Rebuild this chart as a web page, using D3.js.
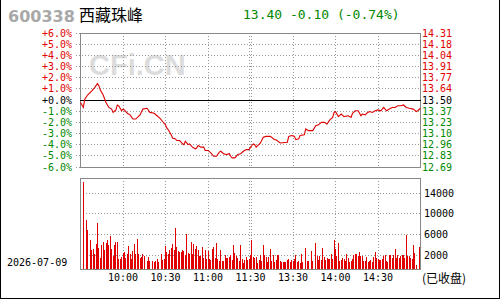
<!DOCTYPE html>
<html lang="zh">
<meta charset="utf-8">
<style>
body { margin: 0; background: #fff; }
text { font-family: "DejaVu Sans Mono", monospace; font-size: 10px; }
.grid { stroke: #999; stroke-dasharray: 1,2; shape-rendering: crispEdges; }
.frame { fill: none; stroke: #888; shape-rendering: crispEdges; }
</style>
<script src="https://d3js.org/d3.v7.min.js"></script>
<body>
<script>

// header info
var code = "600338", name = "西藏珠峰", quote = "13.40 -0.10 (-0.74%)", date = "2026-07-09";
var preClose = 13.50;

// price axis
var pctTicks = [6, 5, 4, 3, 2, 1, 0, -1, -2, -3, -4, -5, -6];
var pctLabels = ["+6.0%", "+5.0%", "+4.0%", "+3.0%", "+2.0%", "+1.0%", "+0.0%", "-1.0%", "-2.0%", "-3.0%", "-4.0%", "-5.0%", "-6.0%"];
var priceLabels = ["14.31", "14.18", "14.04", "13.91", "13.77", "13.64", "13.50", "13.37", "13.23", "13.10", "12.96", "12.83", "12.69"];

// time axis (minute index from 9:30, 241 trading minutes)
var timeTicks = [30, 60, 90, 120, 150, 180, 210];
var timeLabels = ["10:00", "10:30", "11:00", "11:30", "13:30", "14:00", "14:30"];
var gridMins = [30, 60, 90, 119.5, 120.5, 150, 180, 210];

// volume axis
var volTicks = [2000, 6000, 10000, 14000];

// price line (minute, price)
var priceMin = [0,2,3,5,8,10,12,13,14,16,18,20,22,23,25,26,27,29,30,31,33,35,37,39,42,44,47,49,52,54,
  56,58,60,61,62,64,65,67,68,70,72,73,74,76,77,79,81,82,83,85,87,88,90,92,94,96,98,99,101,103,
  105,106,107,109,111,113,115,117,119,120,121,122,123,124,127,129,131,134,137,138,141,146,147,149,151,152,154,155,158,159,
  161,164,166,168,170,172,174,176,178,179,180,182,184,186,189,191,192,194,196,198,199,201,202,204,206,208,210,212,214,216,
  218,220,222,224,226,228,230,232,235,237,238,240];
var pricePx = [13.47,13.41,13.51,13.56,13.61,13.65,13.70,13.67,13.62,13.56,13.47,13.41,13.39,13.35,13.38,13.44,13.43,13.37,13.39,13.38,
  13.34,13.32,13.27,13.27,13.32,13.39,13.40,13.35,13.34,13.31,13.28,13.24,13.20,13.16,13.14,13.08,13.04,13.03,13.01,13.01,
  12.97,12.96,13.00,12.96,12.97,12.93,12.91,12.92,12.95,12.93,12.93,12.89,12.89,12.86,12.82,12.82,12.87,12.88,12.85,12.84,
  12.85,12.82,12.80,12.80,12.84,12.85,12.88,12.90,12.90,12.93,12.95,12.97,12.96,12.93,12.98,13.05,13.06,13.06,13.02,13.02,
  12.98,12.99,13.06,13.07,13.06,13.02,13.03,13.07,13.08,13.15,13.13,13.13,13.19,13.20,13.23,13.23,13.21,13.26,13.29,13.35,
  13.36,13.30,13.33,13.30,13.31,13.29,13.34,13.37,13.37,13.31,13.33,13.32,13.34,13.36,13.35,13.37,13.38,13.37,13.41,13.37,
  13.39,13.41,13.41,13.43,13.43,13.44,13.41,13.40,13.39,13.36,13.37,13.40];

// volume per minute
var volume = [
  1300,0,16200,0,8800,6900,0,5000,3000,3200,
  2200,4200,8200,3400,1500,4000,4600,3000,4400,5000,
  4000,5700,3200,1900,4000,4600,4600,1300,1300,1700,
  2400,2600,1500,2200,3800,2200,1300,2800,4200,2200,
  5100,2200,1500,1700,2200,1900,0,900,1700,900,
  0,900,700,900,1300,700,0,2200,1100,1300,
  3800,2600,2200,3000,3400,4200,3000,7300,3600,2800,
  2600,2600,3000,2800,2000,6100,2400,2200,4600,2200,
  4200,3200,3800,3000,1900,1900,3600,1500,3000,1300,
  2800,1300,1100,3200,3600,1500,4400,1300,900,3000,
  900,900,2000,1500,1500,1700,2000,1100,4000,2400,
  1900,1500,900,4000,1300,500,1100,1700,1100,1300,
  2000,5000,1700,1500,1700,500,1100,2000,900,4000,
  2000,1700,700,1700,3200,900,2000,700,1100,2000,
  2000,900,700,700,700,700,1100,1300,700,1100,
  900,1300,2000,700,900,500,2200,700,0,3400,
  900,900,0,2800,900,0,4400,1900,1100,1900,
  1100,3400,1700,1100,1500,1300,1300,2200,1300,5000,
  3200,1900,4400,900,1100,1500,1300,900,2200,1500,
  700,900,1300,2000,2200,2200,1900,2600,1900,1900,
  900,900,1700,700,900,1100,700,1700,2600,1500,
  1300,1100,1100,1300,1900,2000,900,700,2000,2000,
  1500,2000,3200,1500,2000,1500,1900,2000,2000,1500,
  5900,1900,1900,1500,1300,4000,2400,100,0,3600,
  0];

var red = "#e00000", green = "#008800", lineRed = "#dd0000";

var svg = d3.select("body").append("svg")
    .attr("width", 500)
    .attr("height", 300);

// outer frame (left, right, bottom)
svg.append("path")
    .attr("d", "M0.5,0V298.5H499.5V0")
    .attr("fill", "none")
    .attr("stroke", "#000")
    .attr("shape-rendering", "crispEdges");

// scales
var x = d3.scaleLinear().domain([0, 240]).range([80.5, 420.5]);
var yPct = d3.scaleLinear().domain([-6, 6]).range([167, 33]);
var yVol = d3.scaleLinear().domain([0, 14000]).range([265.6, 193.3]);
var volBottom = 269.5;

function px(v) { return Math.floor(v) + 0.5; }

// watermark
svg.append("text")
    .attr("x", 89).attr("y", 75)
    .style("font-family", "Liberation Sans, Arial, sans-serif")
    .style("font-size", "29px")
    .style("font-weight", "bold")
    .attr("fill", "#dcdcdc")
    .text("CFi.CN");

// header
svg.append("text")
    .attr("x", 8).attr("y", 22)
    .style("font-family", "DejaVu Sans, sans-serif")
    .style("font-size", "16px")
    .style("font-weight", "bold")
    .attr("fill", "#a8a8a8")
    .text(code);
svg.append("text")
    .attr("x", 79).attr("y", 21)
    .style("font-family", "Noto Sans CJK SC, sans-serif")
    .style("font-size", "16px")
    .attr("fill", "#000")
    .text(name);
svg.append("text")
    .attr("x", 243).attr("y", 19)
    .style("font-size", "13px")
    .attr("fill", green)
    .text(quote);

// price panel grid
var pricePanel = svg.append("g");
pricePanel.selectAll("line.h")
  .data(pctTicks.filter(function(d) { return d !== 0; }))
  .enter().append("line")
    .attr("class", "grid")
    .attr("x1", 76).attr("x2", 420)
    .attr("y1", function(d) { return px(yPct(d)); })
    .attr("y2", function(d) { return px(yPct(d)); });
pricePanel.selectAll("line.v")
  .data(gridMins)
  .enter().append("line")
    .attr("class", "grid")
    .attr("x1", function(d) { return px(x(d)); })
    .attr("x2", function(d) { return px(x(d)); })
    .attr("y1", 33).attr("y2", 167);
pricePanel.append("rect")
    .attr("class", "frame")
    .attr("x", 80.5).attr("y", px(yPct(6)))
    .attr("width", 340).attr("height", px(yPct(-6)) - px(yPct(6)));
pricePanel.append("line")
    .attr("x1", 80).attr("x2", 420.5)
    .attr("y1", px(yPct(0))).attr("y2", px(yPct(0)))
    .attr("stroke", "#000")
    .attr("shape-rendering", "crispEdges");

// left/right labels
function labColor(d) { return d > 0 ? red : (d < 0 ? green : "#000"); }
svg.selectAll("text.pct")
  .data(pctTicks)
  .enter().append("text")
    .attr("x", 72).attr("y", function(d) { return yPct(d); })
    .attr("dy", "0.35em")
    .attr("text-anchor", "end")
    .attr("fill", labColor)
    .text(function(d, i) { return pctLabels[i]; });
svg.selectAll("text.price")
  .data(pctTicks)
  .enter().append("text")
    .attr("x", 422).attr("y", function(d) { return yPct(d); })
    .attr("dy", "0.35em")
    .attr("fill", labColor)
    .text(function(d, i) { return priceLabels[i]; });

// price line
var pts = priceMin.map(function(m, i) { return [m, (pricePx[i] / preClose - 1) * 100]; });
svg.append("path")
    .datum(pts)
    .attr("fill", "none")
    .attr("stroke", lineRed)
    .attr("stroke-width", 1.1)
    .attr("d", d3.line()
        .x(function(d) { return x(d[0]); })
        .y(function(d) { return yPct(d[1]); }));

// volume panel
var volPanel = svg.append("g");
volPanel.selectAll("line.h")
  .data(volTicks)
  .enter().append("line")
    .attr("class", "grid")
    .attr("x1", 80).attr("x2", 420)
    .attr("y1", function(d) { return px(yVol(d)); })
    .attr("y2", function(d) { return px(yVol(d)); });
volPanel.selectAll("line.v")
  .data(gridMins)
  .enter().append("line")
    .attr("class", "grid")
    .attr("x1", function(d) { return px(x(d)); })
    .attr("x2", function(d) { return px(x(d)); })
    .attr("y1", 178).attr("y2", volBottom);
volPanel.selectAll("rect.bar")
  .data(volume.map(function(v, i) { return [i, v]; }).filter(function(d) { return d[1] > 0; }))
  .enter().append("rect")
    .attr("x", function(d) { return Math.floor(x(d[0])); })
    .attr("width", 1)
    .attr("y", function(d) { return Math.round(yVol(d[1])); })
    .attr("height", function(d) { return volBottom - Math.round(yVol(d[1])); })
    .attr("fill", "#e00000")
    .attr("shape-rendering", "crispEdges");
volPanel.append("rect")
    .attr("class", "frame")
    .attr("x", 80.5).attr("y", 178.5)
    .attr("width", 340).attr("height", 91);

svg.selectAll("text.vol")
  .data(volTicks)
  .enter().append("text")
    .attr("x", 424).attr("y", function(d) { return yVol(d); })
    .attr("dy", "0.35em")
    .attr("fill", "#000")
    .text(function(d) { return d; });

// time labels
svg.selectAll("text.time")
  .data(timeTicks)
  .enter().append("text")
    .attr("x", function(d) { return x(d); })
    .attr("y", 277)
    .attr("dy", "0.35em")
    .attr("text-anchor", "middle")
    .attr("fill", "#000")
    .text(function(d, i) { return timeLabels[i]; });

svg.append("text")
    .attr("x", 7).attr("y", 262)
    .attr("dy", "0.35em")
    .attr("fill", "#000")
    .text(date);
svg.append("text")
    .attr("x", 422).attr("y", 279)
    .attr("dy", "0.35em")
    .style("font-family", "Noto Sans CJK SC, sans-serif")
    .style("font-size", "12px")
    .attr("fill", "#000")
    .text("(已收盘)");

</script>
</body>
</html>
